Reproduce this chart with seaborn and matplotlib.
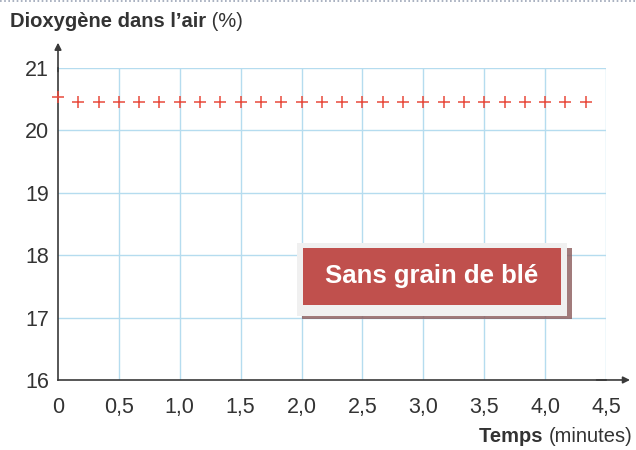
import numpy as np
import pandas as pd
import matplotlib.pyplot as plt
import seaborn as sns
from matplotlib.patches import Rectangle
from matplotlib.lines import Line2D

# Données : dioxygène mesuré toutes les 10 s
temps_s = [0, 10, 20, 30, 40, 50, 60, 70, 80, 90, 100, 110, 120, 130,
           140, 150, 160, 170, 180, 190, 200, 210, 220, 230, 240, 250, 260]
o2 = [20.53, 20.46, 20.46, 20.46, 20.46, 20.46, 20.45, 20.45, 20.45,
      20.45, 20.45, 20.45, 20.45, 20.45, 20.45, 20.45, 20.45, 20.45,
      20.45, 20.45, 20.45, 20.45, 20.45, 20.45, 20.45, 20.45, 20.45]
x_ticks = [0, 0.5, 1.0, 1.5, 2.0, 2.5, 3.0, 3.5, 4.0, 4.5]
x_labels = ['0', '0,5', '1,0', '1,5', '2,0', '2,5', '3,0', '3,5', '4,0', '4,5']
y_ticks = [16, 17, 18, 19, 20, 21]

df = pd.DataFrame({'t': np.array(temps_s) / 60, 'o2': o2})

sns.set_style('white')
plt.rcParams['font.family'] = ['Liberation Sans', 'DejaVu Sans']

fig = plt.figure(figsize=(6.36, 4.5), dpi=100)
ax = fig.add_axes([0.0912, 0.1556, 0.8616, 0.6933])

grid_c = '#b5dcef'
axis_c = '#3a3a3a'
txt_c = '#333333'
for v in x_ticks[1:]:
    ax.axvline(v, color=grid_c, lw=1, zorder=0)
for v in y_ticks[1:]:
    ax.axhline(v, color=grid_c, lw=1, zorder=0)

sns.scatterplot(data=df, x='t', y='o2', marker='+', s=80, color='#e84a3c',
                linewidth=1.1, ax=ax, zorder=3, clip_on=False)

ax.set_xlim(0, 4.5)
ax.set_ylim(16, 21)
ax.set_xticks(x_ticks)
ax.set_xticklabels(x_labels)
ax.set_yticks(y_ticks)
ax.set_xlabel('')
ax.set_ylabel('')
for s in ['top', 'right']:
    ax.spines[s].set_visible(False)
for s in ['left', 'bottom']:
    ax.spines[s].set_color(axis_c)
    ax.spines[s].set_linewidth(1.2)
ax.tick_params(axis='both', direction='inout', length=7, width=1, color=axis_c,
               labelsize=15.5, labelcolor=txt_c, pad=3)
ax.tick_params(axis='x', pad=9)

# flèches des axes
ax.annotate('', xy=(0, 21.45), xytext=(0, 20.9), xycoords='data',
            arrowprops=dict(arrowstyle='-|>', color=axis_c, lw=1.2,
                            mutation_scale=10), annotation_clip=False)
ax.annotate('', xy=(4.72, 16), xytext=(4.4, 16), xycoords='data',
            arrowprops=dict(arrowstyle='-|>', color=axis_c, lw=1.2,
                            mutation_scale=10), annotation_clip=False)

# titres des axes
t1 = fig.text(0.016, 0.94, "Dioxygène dans l’air", fontsize=14.5,
              fontweight='bold', color=txt_c, ha='left', va='baseline')
ax.annotate(" (%)", xy=(1, 0), xycoords=t1, fontsize=14.5, color=txt_c,
            ha='left', va='bottom')
t2 = fig.text(0.994, 0.018, "(minutes)", fontsize=14.5, color=txt_c,
              ha='right', va='baseline')
ax.annotate("Temps ", xy=(0, 0), xycoords=t2, fontsize=14.5,
            fontweight='bold', color=txt_c, ha='right', va='bottom')

# étiquette
ax.add_patch(Rectangle((2.0, 16.97), 2.22, 1.15, facecolor='#8a5a5a',
                       edgecolor='none', zorder=4, hatch='....', alpha=0.8))
ax.add_patch(Rectangle((1.96, 17.02), 2.22, 1.18, facecolor='#f0f0f0',
                       edgecolor='none', zorder=5))
ax.add_patch(Rectangle((2.01, 17.2), 2.12, 0.92, facecolor='#c0504d',
                       edgecolor='none', zorder=6))
ax.text(3.07, 17.66, 'Sans grain de blé', color='white', fontsize=18.5,
        fontweight='bold', ha='center', va='center', zorder=7)

fig.add_artist(Line2D([0, 1], [0.997, 0.997], color='#9aa3b5', lw=1.2,
                      ls=(0, (1, 1.5))))

fig.savefig('out.png', dpi=100, facecolor='white')
